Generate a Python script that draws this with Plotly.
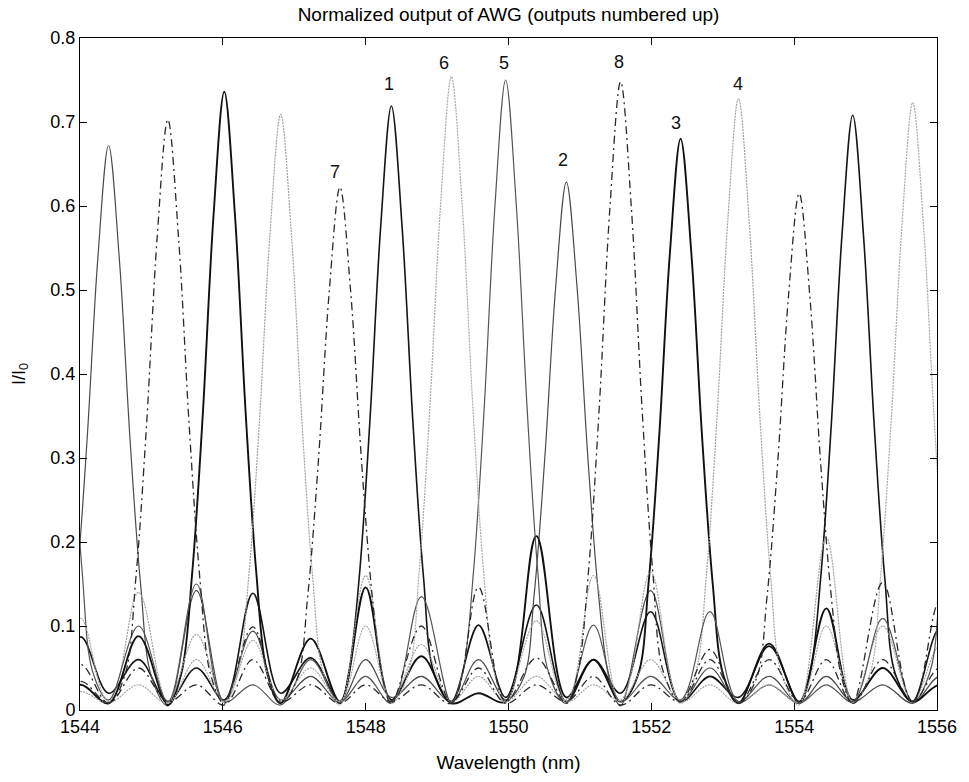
import plotly.graph_objects as go

# ---- data ----
wl_ch1 = [1543.62, 1544.01, 1544.40, 1544.82, 1545.23, 1545.63, 1546.02, 1546.42, 1546.81, 1547.23, 1547.64,
          1547.76, 1547.91, 1548.06, 1548.21, 1548.36, 1548.51, 1548.66, 1548.81, 1548.96, 1549.20, 1549.58,
          1549.96, 1550.39, 1550.81, 1551.19, 1551.57, 1551.99, 1552.41, 1552.82, 1553.22, 1553.65, 1554.07,
          1554.22, 1554.37, 1554.52, 1554.67, 1554.82, 1554.97, 1555.12, 1555.27, 1555.42, 1555.66, 1556.04, 1556.45]
val_ch1 = [0.015, 0.087, 0.02, 0.06, 0.01, 0.05, 0.012, 0.139, 0.02, 0.062, 0.008,
           0.043, 0.158, 0.345, 0.575, 0.719, 0.575, 0.345, 0.158, 0.043, 0.01, 0.101,
           0.015, 0.125, 0.01, 0.06, 0.02, 0.117, 0.01, 0.04, 0.015, 0.076, 0.008,
           0.042, 0.156, 0.340, 0.566, 0.708, 0.566, 0.340, 0.156, 0.042, 0.01, 0.097, 0.02]

wl_ch2 = [1543.22, 1543.62, 1543.80, 1543.95, 1544.10, 1544.25, 1544.40, 1544.55, 1544.70, 1544.85, 1545.00,
          1545.23, 1545.63, 1546.02, 1546.42, 1546.81, 1547.23, 1547.64, 1548.00, 1548.36, 1548.78, 1549.20,
          1549.58, 1549.96, 1550.21, 1550.36, 1550.51, 1550.66, 1550.81, 1550.96, 1551.11, 1551.26, 1551.41,
          1551.57, 1551.99, 1552.41, 1552.82, 1553.22, 1553.65, 1554.07, 1554.45, 1554.82, 1555.24, 1555.66,
          1556.04, 1556.45]
val_ch2 = [0.05, 0.01, 0.040, 0.148, 0.323, 0.538, 0.672, 0.538, 0.323, 0.148, 0.040,
           0.005, 0.142, 0.01, 0.094, 0.012, 0.04, 0.01, 0.06, 0.015, 0.04, 0.01,
           0.06, 0.012, 0.038, 0.138, 0.302, 0.503, 0.6285, 0.503, 0.302, 0.138, 0.038,
           0.005, 0.142, 0.01, 0.05, 0.01, 0.04, 0.008, 0.04, 0.01, 0.03, 0.008,
           0.04, 0.01]

wl_ch3 = [1543.62, 1544.01, 1544.40, 1544.82, 1545.23, 1545.42, 1545.57, 1545.72, 1545.87, 1546.02, 1546.17,
          1546.32, 1546.47, 1546.62, 1546.81, 1547.23, 1547.64, 1548.00, 1548.36, 1548.78, 1549.20, 1549.58,
          1549.96, 1550.39, 1550.81, 1551.19, 1551.57, 1551.81, 1551.96, 1552.11, 1552.26, 1552.41, 1552.56,
          1552.71, 1552.86, 1553.01, 1553.22, 1553.65, 1554.07, 1554.45, 1554.82, 1555.24, 1555.66, 1556.04, 1556.45]
val_ch3 = [0.01, 0.03, 0.008, 0.088, 0.006, 0.044, 0.162, 0.353, 0.589, 0.736, 0.589,
           0.353, 0.162, 0.044, 0.008, 0.085, 0.01, 0.146, 0.012, 0.064, 0.008, 0.02,
           0.01, 0.207, 0.015, 0.06, 0.01, 0.041, 0.150, 0.326, 0.544, 0.680, 0.544,
           0.326, 0.150, 0.041, 0.008, 0.079, 0.01, 0.121, 0.012, 0.05, 0.01, 0.03, 0.01]

wl_ch4 = [1543.62, 1544.01, 1544.40, 1544.82, 1545.23, 1545.63, 1546.02, 1546.21, 1546.36, 1546.51, 1546.66,
          1546.81, 1546.96, 1547.11, 1547.26, 1547.41, 1547.64, 1548.00, 1548.36, 1548.78, 1549.20, 1549.58,
          1549.96, 1550.39, 1550.81, 1551.19, 1551.57, 1551.99, 1552.41, 1552.62, 1552.77, 1552.92, 1553.07,
          1553.22, 1553.37, 1553.52, 1553.67, 1553.82, 1554.07, 1554.45, 1554.82, 1555.24, 1555.66, 1556.04, 1556.45]
val_ch4 = [0.008, 0.022, 0.01, 0.14, 0.01, 0.09, 0.008, 0.043, 0.156, 0.340, 0.567,
           0.709, 0.567, 0.340, 0.156, 0.043, 0.006, 0.16, 0.01, 0.078, 0.01, 0.04,
           0.01, 0.04, 0.012, 0.16, 0.01, 0.06, 0.008, 0.044, 0.160, 0.349, 0.582,
           0.728, 0.582, 0.349, 0.160, 0.044, 0.006, 0.205, 0.01, 0.10, 0.01, 0.076, 0.01]

wl_ch5 = [1543.28, 1543.43, 1543.58, 1543.73, 1543.88, 1544.03, 1544.18, 1544.40, 1544.82, 1545.23, 1545.63,
          1546.02, 1546.42, 1546.81, 1547.23, 1547.64, 1548.00, 1548.36, 1548.78, 1549.20, 1549.36, 1549.51,
          1549.66, 1549.81, 1549.96, 1550.11, 1550.26, 1550.41, 1550.56, 1550.81, 1551.19, 1551.57, 1551.99,
          1552.41, 1552.82, 1553.22, 1553.65, 1554.07, 1554.45, 1554.82, 1555.24, 1555.66, 1555.90, 1556.05,
          1556.20, 1556.35, 1556.50]
val_ch5 = [0.360, 0.600, 0.75, 0.600, 0.360, 0.165, 0.045, 0.012, 0.10, 0.01, 0.15,
           0.01, 0.03, 0.006, 0.06, 0.01, 0.04, 0.008, 0.135, 0.008, 0.045, 0.165,
           0.360, 0.600, 0.750, 0.600, 0.360, 0.165, 0.045, 0.008, 0.101, 0.01, 0.04,
           0.012, 0.117, 0.01, 0.03, 0.008, 0.03, 0.01, 0.109, 0.01, 0.045, 0.165,
           0.360, 0.600, 0.750]

wl_ch6 = [1543.62, 1544.01, 1544.40, 1544.82, 1545.23, 1545.63, 1546.02, 1546.42, 1546.81, 1547.23, 1547.64,
          1548.00, 1548.36, 1548.60, 1548.75, 1548.90, 1549.05, 1549.20, 1549.35, 1549.50, 1549.65, 1549.80,
          1549.96, 1550.39, 1550.81, 1551.19, 1551.57, 1551.99, 1552.41, 1552.82, 1553.22, 1553.65, 1554.07,
          1554.45, 1554.82, 1555.06, 1555.21, 1555.36, 1555.51, 1555.66, 1555.81, 1555.96, 1556.11, 1556.26, 1556.45]
val_ch6 = [0.012, 0.109, 0.01, 0.03, 0.008, 0.06, 0.01, 0.083, 0.012, 0.05, 0.01,
           0.10, 0.008, 0.045, 0.166, 0.362, 0.603, 0.754, 0.603, 0.362, 0.166, 0.045,
           0.008, 0.106, 0.01, 0.03, 0.012, 0.164, 0.01, 0.03, 0.008, 0.03, 0.01,
           0.10, 0.008, 0.043, 0.159, 0.347, 0.578, 0.723, 0.578, 0.347, 0.159, 0.043, 0.01]

wl_ch7 = [1543.62, 1544.01, 1544.40, 1544.82, 1545.23, 1545.63, 1546.02, 1546.42, 1546.81, 1547.04, 1547.19,
          1547.34, 1547.49, 1547.64, 1547.79, 1547.94, 1548.09, 1548.24, 1548.36, 1548.78, 1549.20, 1549.58,
          1549.96, 1550.39, 1550.81, 1551.19, 1551.57, 1551.99, 1552.41, 1552.82, 1553.22, 1553.47, 1553.62,
          1553.77, 1553.92, 1554.07, 1554.22, 1554.37, 1554.52, 1554.67, 1554.82, 1555.24, 1555.66, 1556.04, 1556.45]
val_ch7 = [0.01, 0.054, 0.008, 0.05, 0.01, 0.03, 0.006, 0.06, 0.008, 0.037, 0.137,
           0.299, 0.498, 0.6225, 0.498, 0.299, 0.137, 0.037, 0.008, 0.10, 0.01, 0.05,
           0.008, 0.03, 0.01, 0.04, 0.006, 0.03, 0.01, 0.06, 0.008, 0.037, 0.135,
           0.295, 0.492, 0.615, 0.492, 0.295, 0.135, 0.037, 0.008, 0.152, 0.01, 0.05, 0.01]

wl_ch8 = [1543.62, 1544.01, 1544.40, 1544.63, 1544.78, 1544.93, 1545.08, 1545.23, 1545.38, 1545.53, 1545.68,
          1545.83, 1546.02, 1546.42, 1546.81, 1547.23, 1547.64, 1548.00, 1548.36, 1548.78, 1549.20, 1549.58,
          1549.96, 1550.39, 1550.81, 1550.97, 1551.12, 1551.27, 1551.42, 1551.57, 1551.72, 1551.87, 1552.02,
          1552.17, 1552.41, 1552.82, 1553.22, 1553.65, 1554.07, 1554.45, 1554.82, 1555.24, 1555.66, 1556.04, 1556.45]
val_ch8 = [0.008, 0.034, 0.008, 0.042, 0.155, 0.337, 0.562, 0.703, 0.562, 0.337, 0.155,
           0.042, 0.008, 0.099, 0.01, 0.03, 0.008, 0.03, 0.01, 0.03, 0.008, 0.146,
           0.01, 0.062, 0.008, 0.045, 0.165, 0.359, 0.598, 0.748, 0.598, 0.359, 0.165,
           0.045, 0.01, 0.072, 0.008, 0.06, 0.01, 0.06, 0.008, 0.06, 0.01, 0.13, 0.01]

peak_labels = ["1", "2", "3", "4", "5", "6", "7", "8"]
label_wl = [1548.32, 1550.77, 1552.34, 1553.21, 1549.94, 1549.10, 1547.57, 1551.55]
label_val = [0.745, 0.655, 0.699, 0.745, 0.770, 0.770, 0.640, 0.771]

x_ticks = [1544, 1546, 1548, 1550, 1552, 1554, 1556]
y_ticks = [0, 0.1, 0.2, 0.3, 0.4, 0.5, 0.6, 0.7, 0.8]
y_ticktext = ["0", "0.1", "0.2", "0.3", "0.4", "0.5", "0.6", "0.7", "0.8"]

# ---- styles ----
series = [
    (wl_ch1, val_ch1, dict(color="#151515", width=1.6, dash="solid")),
    (wl_ch2, val_ch2, dict(color="#4a4a4a", width=1.2, dash="solid")),
    (wl_ch3, val_ch3, dict(color="#111111", width=1.9, dash="solid")),
    (wl_ch4, val_ch4, dict(color="#a0a0a0", width=1.2, dash="2px,1px")),
    (wl_ch5, val_ch5, dict(color="#555555", width=1.2, dash="solid")),
    (wl_ch6, val_ch6, dict(color="#a8a8a8", width=1.2, dash="2px,1px")),
    (wl_ch7, val_ch7, dict(color="#2a2a2a", width=1.3, dash="8px,4px,2px,4px")),
    (wl_ch8, val_ch8, dict(color="#2a2a2a", width=1.3, dash="8px,4px,2px,4px")),
]

font_family = "Liberation Sans, Arial, Helvetica, sans-serif"

fig = go.Figure()
for i, (xs, ys, ln) in enumerate(series):
    fig.add_trace(go.Scatter(x=xs, y=ys, mode="lines", name=f"output {i+1}",
                             line=dict(shape="spline", smoothing=1.0, **ln)))

for t, xv, yv in zip(peak_labels, label_wl, label_val):
    fig.add_annotation(x=xv, y=yv, text=t, showarrow=False,
                       font=dict(size=18, color="#111", family=font_family))

fig.update_layout(
    width=969, height=782,
    margin=dict(l=80, r=27, t=38, b=66),
    paper_bgcolor="white", plot_bgcolor="white",
    showlegend=False,
    font=dict(family=font_family, size=18, color="black"),
    title=dict(text="Normalized output of AWG (outputs numbered up)",
               x=0.5, xanchor="center", xref="paper",
               y=1 - 14 / 782, yanchor="middle", yref="container",
               font=dict(size=19, family=font_family, color="black")),
    xaxis=dict(range=[1544, 1556], tickvals=x_ticks, ticktext=[str(v) for v in x_ticks],
               ticks="inside", ticklen=7, tickcolor="black", showline=True, linecolor="black",
               linewidth=1, mirror="ticks", showgrid=False, zeroline=False,
               tickfont=dict(size=18),
               title=dict(text="Wavelength (nm)", standoff=20, font=dict(size=19))),
    yaxis=dict(range=[0, 0.8], tickvals=y_ticks, ticktext=y_ticktext,
               ticks="inside", ticklen=7, tickcolor="black", showline=True, linecolor="black",
               linewidth=1, mirror="ticks", showgrid=False, zeroline=False,
               tickfont=dict(size=18),
               title=dict(text="I/I<sub>0</sub>", standoff=20, font=dict(size=18))),
)

fig.write_html("out.html")
